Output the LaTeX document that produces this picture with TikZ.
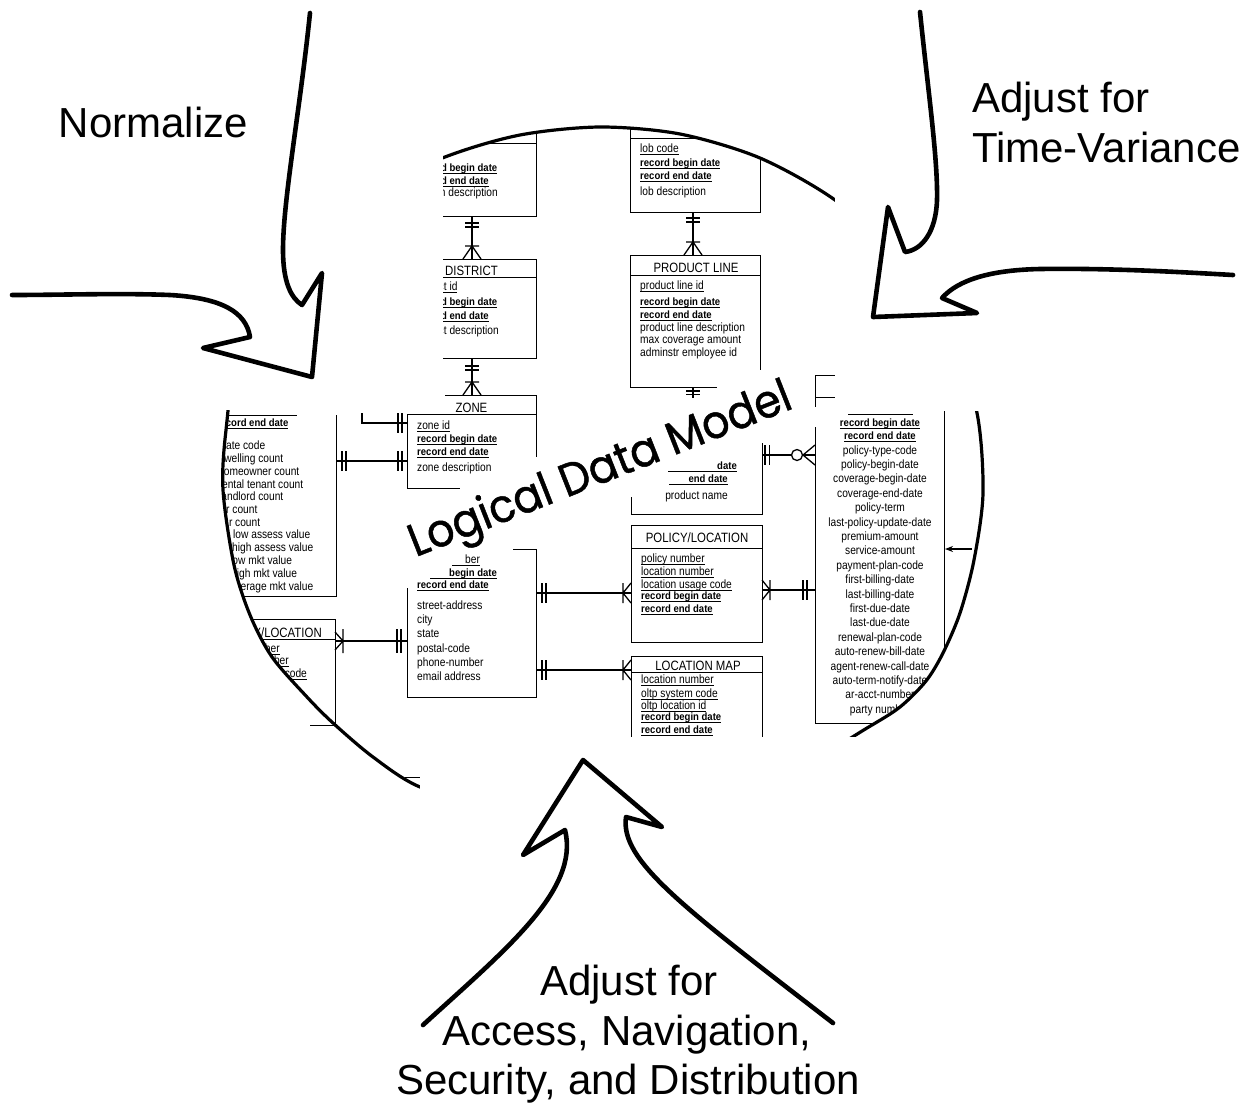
\documentclass[tikz,border=0pt]{standalone}
\usepackage{fontspec}
\usetikzlibrary{arrows.meta}
\setmainfont{Liberation Sans}
\newfontfamily\erfont{Liberation Sans}[FakeStretch=0.85]
\newfontfamily\erboldfont{Liberation Sans}[FakeStretch=0.9]
\newfontfamily\ertitlefont{Liberation Sans}[FakeStretch=0.845]
\newfontfamily\handfont{Poppins}[FakeBold=1, FakeStretch=0.93]
\newcounter{attrno}
% underlined text with a fixed rule just below the baseline
\newcommand\undl[1]{\setbox0\hbox{#1}\rlap{\vrule width\wd0 height -1.5pt depth 2.3pt}\box0}
\tikzset{
  erreg/.style={inner sep=0pt, anchor=base west, font=\erfont\fontsize{12}{14}\selectfont},
  erkey/.style={inner sep=0pt, anchor=base west, font=\erboldfont\bfseries\fontsize{10.6}{13}\selectfont},
  ertitle/.style={inner sep=0pt, anchor=base, font=\ertitlefont\fontsize{13.5}{15}\selectfont},
  boxline/.style={line width=1pt},
  relline/.style={line width=1.3pt},
  rim/.style={line width=3.2pt, line cap=round},
  handarrow/.style={line width=4.6pt, line join=round, line cap=round},
  bigtext/.style={inner sep=0pt, font=\fontsize{42}{50}\selectfont},
  ldm/.style={inner sep=0pt, rotate=21.5, font=\handfont\fontsize{46}{50}\selectfont},
}
% attribute rows: [options]{x}{y of the middle of the row}{text}
\newcommand\attr[4][]{\stepcounter{attrno}\node[erreg,#1] (a\arabic{attrno}) at (#2,#3+4) {#4};}
\newcommand\keyattr[4][]{\stepcounter{attrno}\node[erkey,#1] (a\arabic{attrno}) at (#2,#3+4) {\undl{#4}};}
\newcommand\idattr[4][]{\stepcounter{attrno}\node[erreg,#1] (a\arabic{attrno}) at (#2,#3+4) {\undl{#4}};}
% outline of the lens through which the model is seen
\def\lenspath{plot[smooth cycle] coordinates {(600,127) (680,134) (760,158) (835,200) (900,258) (950,330) (977,413) (983,493) (974,560) (960,613) (943,653) (926,681) (900,707) (867,728) (800,767) (700,806) (600,820) (500,810) (420,787) (373,757) (333,723) (307,697) (272,657) (250,615) (234,565) (223,490) (226,430) (240,340) (285,262) (355,198) (445,157) (520,135)}}

\begin{document}
\begin{tikzpicture}[x=1pt,y=-1pt]
\useasboundingbox (0,0) rectangle (1257,1106);
\fill[white] (0,0) rectangle (1257,1106);

% ================= entity-relationship model inside the lens =================
\begin{scope}
\clip \lenspath;

% ---- column on the upper left, cut on its left side ----
\begin{scope}
\clip (443,0) rectangle (1257,1106);
\draw[boxline] (536,110) -- (536,216) -- (407,216);
\draw[boxline] (407,143) -- (536,143);
\keyattr{417}{167}{record begin date}
\keyattr{417}{180}{record end date}
\attr{417}{192}{region description}
\draw[boxline] (407,259) rectangle (536,358);
\draw[boxline] (407,277) -- (536,277);
\node[ertitle] (district) at (471.5,275) {DISTRICT};
\idattr{417}{286}{district id}
\keyattr{417}{301}{record begin date}
\keyattr{417}{315}{record end date}
\attr{417}{330}{district description}
% region -> district
\coordinate (regS) at (472,216); \coordinate (disN) at (472,259);
\draw[relline] (regS) -- (disN);
\draw[relline] (465,223) -- (479,223) (465,227) -- (479,227);
\draw[relline] (465,246) -- (479,246) (472,246) -- (463,259) (472,246) -- (481,259);
\end{scope}

% district -> zone
\coordinate (disS) at (472,358); \coordinate (zonN) at (472,395);
\draw[relline] (disS) -- (zonN);
\draw[relline] (465,366) -- (479,366) (465,370) -- (479,370);
\draw[relline] (465,382) -- (479,382) (472,382) -- (463,395) (472,382) -- (481,395);

% ---- ZONE ----
\draw[boxline] (445,395) -- (536,395) -- (536,457);
\draw[boxline] (407,414) -- (536,414);
\draw[boxline] (407,414) -- (407,488) -- (460,488);
\node[ertitle] (zone) at (471.5,412.5) {ZONE};
\idattr{417}{425.5}{zone id}
\keyattr{417}{438.5}{record begin date}
\keyattr{417}{451}{record end date}
\attr{417}{467}{zone description}

% ---- left column with the counts ----
\draw[boxline] (227,415) -- (297,415);
\draw[boxline] (336,415) -- (336,596) -- (200,596);
\keyattr{216.7}{422}{record end date}
\attr{218}{445}{state code}
\attr{218.4}{458}{dwelling count}
\attr{218}{471}{homeowner count}
\attr{218.5}{484}{rental tenant count}
\attr{219}{496}{landlord count}
\attr{226}{509}{r count}
\attr{228.8}{522}{r count}
\attr{233}{534}{low assess value}
\attr{232}{547}{high assess value}
\attr{230}{560}{low mkt value}
\attr{231}{573}{high mkt value}
\attr{229.7}{586}{average mkt value}

% counts -> zone
\coordinate (cntN) at (362,413); \coordinate (zonW1) at (407,423);
\draw[relline] (cntN) |- (zonW1);
\draw[relline] (398,413) -- (398,433) (402,413) -- (402,433);
\coordinate (cntE) at (336,461); \coordinate (zonW2) at (407,461);
\draw[relline] (cntE) -- (zonW2);
\draw[relline] (342,451) -- (342,471) (346,451) -- (346,471);
\draw[relline] (398,451) -- (398,471) (402,451) -- (402,471);

% ---- POLICY/LOCATION on the lower left ----
\draw[boxline] (206,619) rectangle (335,725);
\draw[boxline] (206,639) -- (335,639);
\node[ertitle] (plleft) at (270.5,637) {POLICY/LOCATION};
\idattr{216}{648}{policy number}
\idattr{216}{660}{location number}
\idattr{216}{673}{location usage code}

% ---- address box ----
\draw[boxline] (513,549) -- (536,549) -- (536,697) -- (407,697) -- (407,588);
\node[erreg] (addr1) at (465,563.5) {\undl{ber}};
\draw[line width=0.8pt] (452,565.4) -- (466,565.4);
\node[erkey] (addr2) at (449,576) {\undl{begin date}};
\draw[line width=0.8pt] (430,577.9) -- (450,577.9);
\keyattr{417}{584.5}{record end date}
\attr{417}{605}{street-address}
\attr{417}{619}{city}
\attr{417}{633}{state}
\attr{417}{648}{postal-code}
\attr{417}{662}{phone-number}
\attr{417}{676}{email address}

% policy/location (left) -> address
\coordinate (plLE) at (335,641); \coordinate (adrW) at (407,641);
\draw[relline] (plLE) -- (adrW);
\draw[relline] (343,629) -- (343,653) (343,641) -- (335,632) (343,641) -- (335,650);
\draw[relline] (397,629) -- (397,653) (401,629) -- (401,653);

% ---- line of business ----
\draw[boxline] (630,100) -- (630,212) -- (760,212) -- (760,100);
\draw[boxline] (630,138) -- (760,138);
\idattr{640}{148}{lob code}
\keyattr{640}{162}{record begin date}
\keyattr{640}{175}{record end date}
\attr{640}{191}{lob description}

% lob -> product line
\coordinate (lobS) at (693,212); \coordinate (plnN) at (693,255);
\draw[relline] (lobS) -- (plnN);
\draw[relline] (686,218) -- (700,218) (686,222) -- (700,222);
\draw[relline] (686,242) -- (700,242) (693,242) -- (684,255) (693,242) -- (702,255);

% ---- PRODUCT LINE ----
\draw[boxline] (630,387) -- (630,255) -- (760,255) -- (760,370);
\draw[boxline] (630,387) -- (717,387);
\draw[boxline] (630,275) -- (760,275);
\node[ertitle] (pline) at (696,272.5) {PRODUCT LINE};
\idattr{640}{285}{product line id}
\keyattr{640}{301}{record begin date}
\keyattr{640}{314}{record end date}
\attr{640}{327}{product line description}
\attr{640}{339}{max coverage amount}
\attr{640}{352}{adminstr employee id}

% product line -> product
\coordinate (plnS) at (693,387); \coordinate (prdN) at (693,398);
\draw[relline] (plnS) -- (prdN);
\draw[relline] (686,391) -- (700,391) (686,394.5) -- (700,394.5);

% ---- product ----
\draw[boxline] (631,497) -- (631,514) -- (762,514) -- (762,443);
\node[erkey, anchor=base east] (prd1) at (737,469) {\undl{date}};
\draw[line width=0.8pt] (668,470.9) -- (718,470.9);
\node[erkey, anchor=base east] (prd2) at (728,482) {\undl{end date}};
\draw[line width=0.8pt] (669,483.9) -- (690,483.9);
\attr[anchor=base]{696.5}{495}{product name}

% product -> policy
\coordinate (prdE) at (762,455); \coordinate (polW1) at (815,455);
\node[circle, draw, line width=1.3pt, minimum size=11pt, inner sep=0pt] (zeroring) at (797,455) {};
\draw[relline] (prdE) -- (zeroring.west);
\draw[relline] (zeroring.east) -- (polW1);
\draw[relline] (765,445) -- (765,465) (769.5,445) -- (769.5,465);
\draw[relline] (803,455) -- (815,445) (803,455) -- (815,465);

% ---- POLICY/LOCATION ----
\draw[boxline] (631,525) rectangle (762,642);
\draw[boxline] (631,548) -- (762,548);
\node[ertitle] (plmid) at (697,542.5) {POLICY/LOCATION};
\idattr{641}{558}{policy number}
\idattr{641}{571}{location number}
\idattr{641}{584}{location usage code}
\keyattr{641}{595}{record begin date}
\keyattr{641}{608}{record end date}

% address -> policy/location, address -> location map
\coordinate (adrE1) at (536,593); \coordinate (plmW) at (631,593);
\draw[relline] (adrE1) -- (plmW);
\draw[relline] (542,583) -- (542,603) (546,583) -- (546,603);
\draw[relline] (623,583) -- (623,603) (623,593) -- (631,583) (623,593) -- (631,603);
\coordinate (adrE2) at (536,670); \coordinate (lmpW) at (631,670);
\draw[relline] (adrE2) -- (lmpW);
\draw[relline] (542,660) -- (542,680) (546,660) -- (546,680);
\draw[relline] (623,660) -- (623,680) (623,670) -- (631,660) (623,670) -- (631,680);

% policy/location -> policy
\coordinate (plmE) at (762,590); \coordinate (polW2) at (815,590);
\draw[relline] (plmE) -- (polW2);
\draw[relline] (770,580) -- (770,600) (770,590) -- (762,580) (770,590) -- (762,600);
\draw[relline] (803,580) -- (803,600) (807,580) -- (807,600);

% ---- LOCATION MAP ----
\draw[boxline] (631,740) -- (631,656) -- (762,656) -- (762,740);
\draw[boxline] (631,672) -- (762,672);
\node[ertitle] (lmap) at (698,670.5) {LOCATION MAP};
\idattr{641}{679}{location number}
\idattr{641}{693}{oltp system code}
\idattr{641}{705}{oltp location id}
\keyattr{641}{716}{record begin date}
\keyattr{641}{729}{record end date}

% ---- policy (right column) ----
\draw[boxline] (835,375) -- (815,375) -- (815,407);
\draw[boxline] (815,397) -- (835,397);
\draw[boxline] (815,427) -- (815,723) -- (900,723);
\draw[boxline] (944,380) -- (944,760);
\draw[boxline] (848,414) -- (913,414);
\keyattr[anchor=base]{880}{422}{record begin date}
\keyattr[anchor=base]{880}{435}{record end date}
\foreach \t [count=\i] in {policy-type-code, policy-begin-date, coverage-begin-date,
  coverage-end-date, policy-term, last-policy-update-date, premium-amount,
  service-amount, payment-plan-code, first-billing-date, last-billing-date,
  first-due-date, last-due-date, renewal-plan-code, auto-renew-bill-date,
  agent-renew-call-date, auto-term-notify-date, ar-acct-number, party number}
  \node[erreg, anchor=base] (pol\i) at (880,{450+14.4*(\i-1)+4}) {\t};
\end{scope}

% ================= rim of the lens =================
\draw[rim] \lenspath;
\fill[white] (150,90) rectangle (443,410);
\fill[white] (835,140) rectangle (1010,411);
\fill[white] (420,737) rectangle (875,850);
\draw[boxline] (310,725) -- (335,725);
\draw[boxline] (405,777) -- (420,777);
\coordinate (rimE) at (972,549); \coordinate (polE) at (945,549);
\draw[relline, -{Stealth[length=8pt, width=6pt]}] (rimE) -- (polE);

% ================= title written across the model =================
\node[ldm] (ldmtitle) at (601,472) {Logical Data Model};

% ================= hand-drawn arrows =================
\draw[handarrow] (310,13) .. controls (300,110) and (283,200) .. (283,250)
  .. controls (283,282) and (291,298) .. (302,305) -- (322,273) -- (312,377)
  -- (203,348) -- (250,337) .. controls (246,312) and (222,298) .. (170,295)
  .. controls (120,293) and (60,295) .. (12,295);
\draw[handarrow] (920,12) .. controls (928,90) and (938,160) .. (937,200)
  .. controls (936,232) and (922,250) .. (905,252) -- (888,207) -- (873,317)
  -- (977,313) -- (942,298) .. controls (958,280) and (990,270) .. (1040,269)
  .. controls (1110,268) and (1180,272) .. (1233,275);
\draw[handarrow] (423,1025) .. controls (505,950) and (580,890) .. (565,830)
  -- (523,855) -- (583,760) -- (662,827) -- (626,817)
  .. controls (620,860) and (680,905) .. (833,1023);

% ================= captions =================
\node[bigtext, anchor=base] (normalize) at (153.5,137) {Normalize};
\node[bigtext, anchor=base west] (time1) at (972,112) {Adjust for};
\node[bigtext, anchor=base west] (time2) at (972,162) {Time-Variance};
\node[bigtext, anchor=base] (acc1) at (629,995) {Adjust for};
\node[bigtext, anchor=base] (acc2) at (627,1045) {Access, Navigation,};
\node[bigtext, anchor=base] (acc3) at (628,1094) {Security, and Distribution};
\end{tikzpicture}
\end{document}
